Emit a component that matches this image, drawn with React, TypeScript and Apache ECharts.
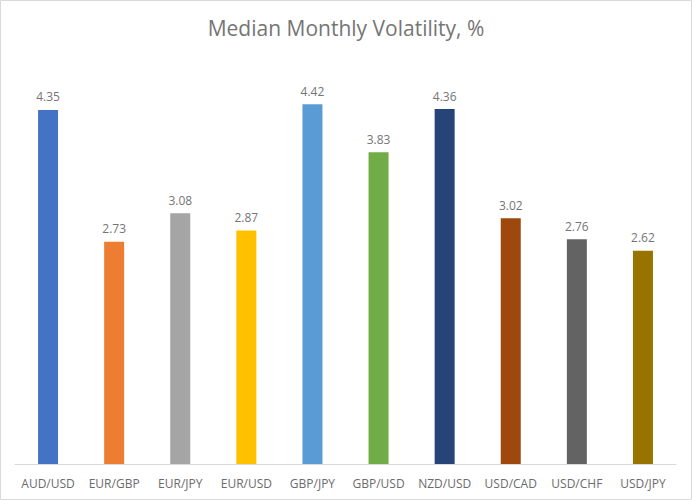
import React, { useEffect, useRef } from "react";
import * as echarts from "echarts";

const categories = ["AUD/USD", "EUR/GBP", "EUR/JPY", "EUR/USD", "GBP/JPY", "GBP/USD", "NZD/USD", "USD/CAD", "USD/CHF", "USD/JPY"];
const values = [4.35, 2.73, 3.08, 2.87, 4.42, 3.83, 4.36, 3.02, 2.76, 2.62];
const colors = ["#4472C4", "#ED7D31", "#A5A5A5", "#FFC000", "#5B9BD5", "#70AD47", "#264478", "#9E480E", "#636363", "#997300"];

export default function App() {
  const ref = useRef<HTMLDivElement>(null);
  useEffect(() => {
    document.body.style.margin = "0";
    const chart = echarts.init(ref.current!, null, { renderer: "svg" });
    chart.setOption({
      animation: false,
      backgroundColor: "#ffffff",
      textStyle: { fontFamily: "Open Sans" },
      title: {
        text: "Median Monthly Volatility, %",
        left: "center",
        top: 12,
        textStyle: { fontFamily: "Open Sans", fontSize: 21, fontWeight: "normal", color: "#757575" },
      },
      graphic: [
        {
          type: "rect",
          shape: { x: 0.5, y: 0.5, width: 691, height: 499 },
          style: { fill: "none", stroke: "#d9d9d9", lineWidth: 1 },
          silent: true,
        },
      ],
      grid: { left: 15, right: 16, top: 57, bottom: 36 },
      xAxis: {
        type: "category",
        data: categories,
        axisTick: { show: false },
        axisLine: { show: true, lineStyle: { color: "#d9d9d9" } },
        axisLabel: { color: "#6b6b6b", fontSize: 12, margin: 13, interval: 0, fontFamily: "Open Sans" },
      },
      yAxis: {
        type: "value",
        min: 0,
        max: 5,
        show: false,
        splitLine: { show: false },
      },
      series: [
        {
          type: "bar",
          barWidth: 20,
          data: values.map((v, i) => ({ value: v, itemStyle: { color: colors[i] } })),
          label: {
            show: true,
            position: "top",
            distance: 7,
            color: "#757575",
            fontSize: 12,
            fontFamily: "Open Sans",
            formatter: (p: any) => p.value.toFixed(2),
          },
        },
      ],
    });
    return () => chart.dispose();
  }, []);
  return <div ref={ref} style={{ width: 692, height: 500 }} />;
}
